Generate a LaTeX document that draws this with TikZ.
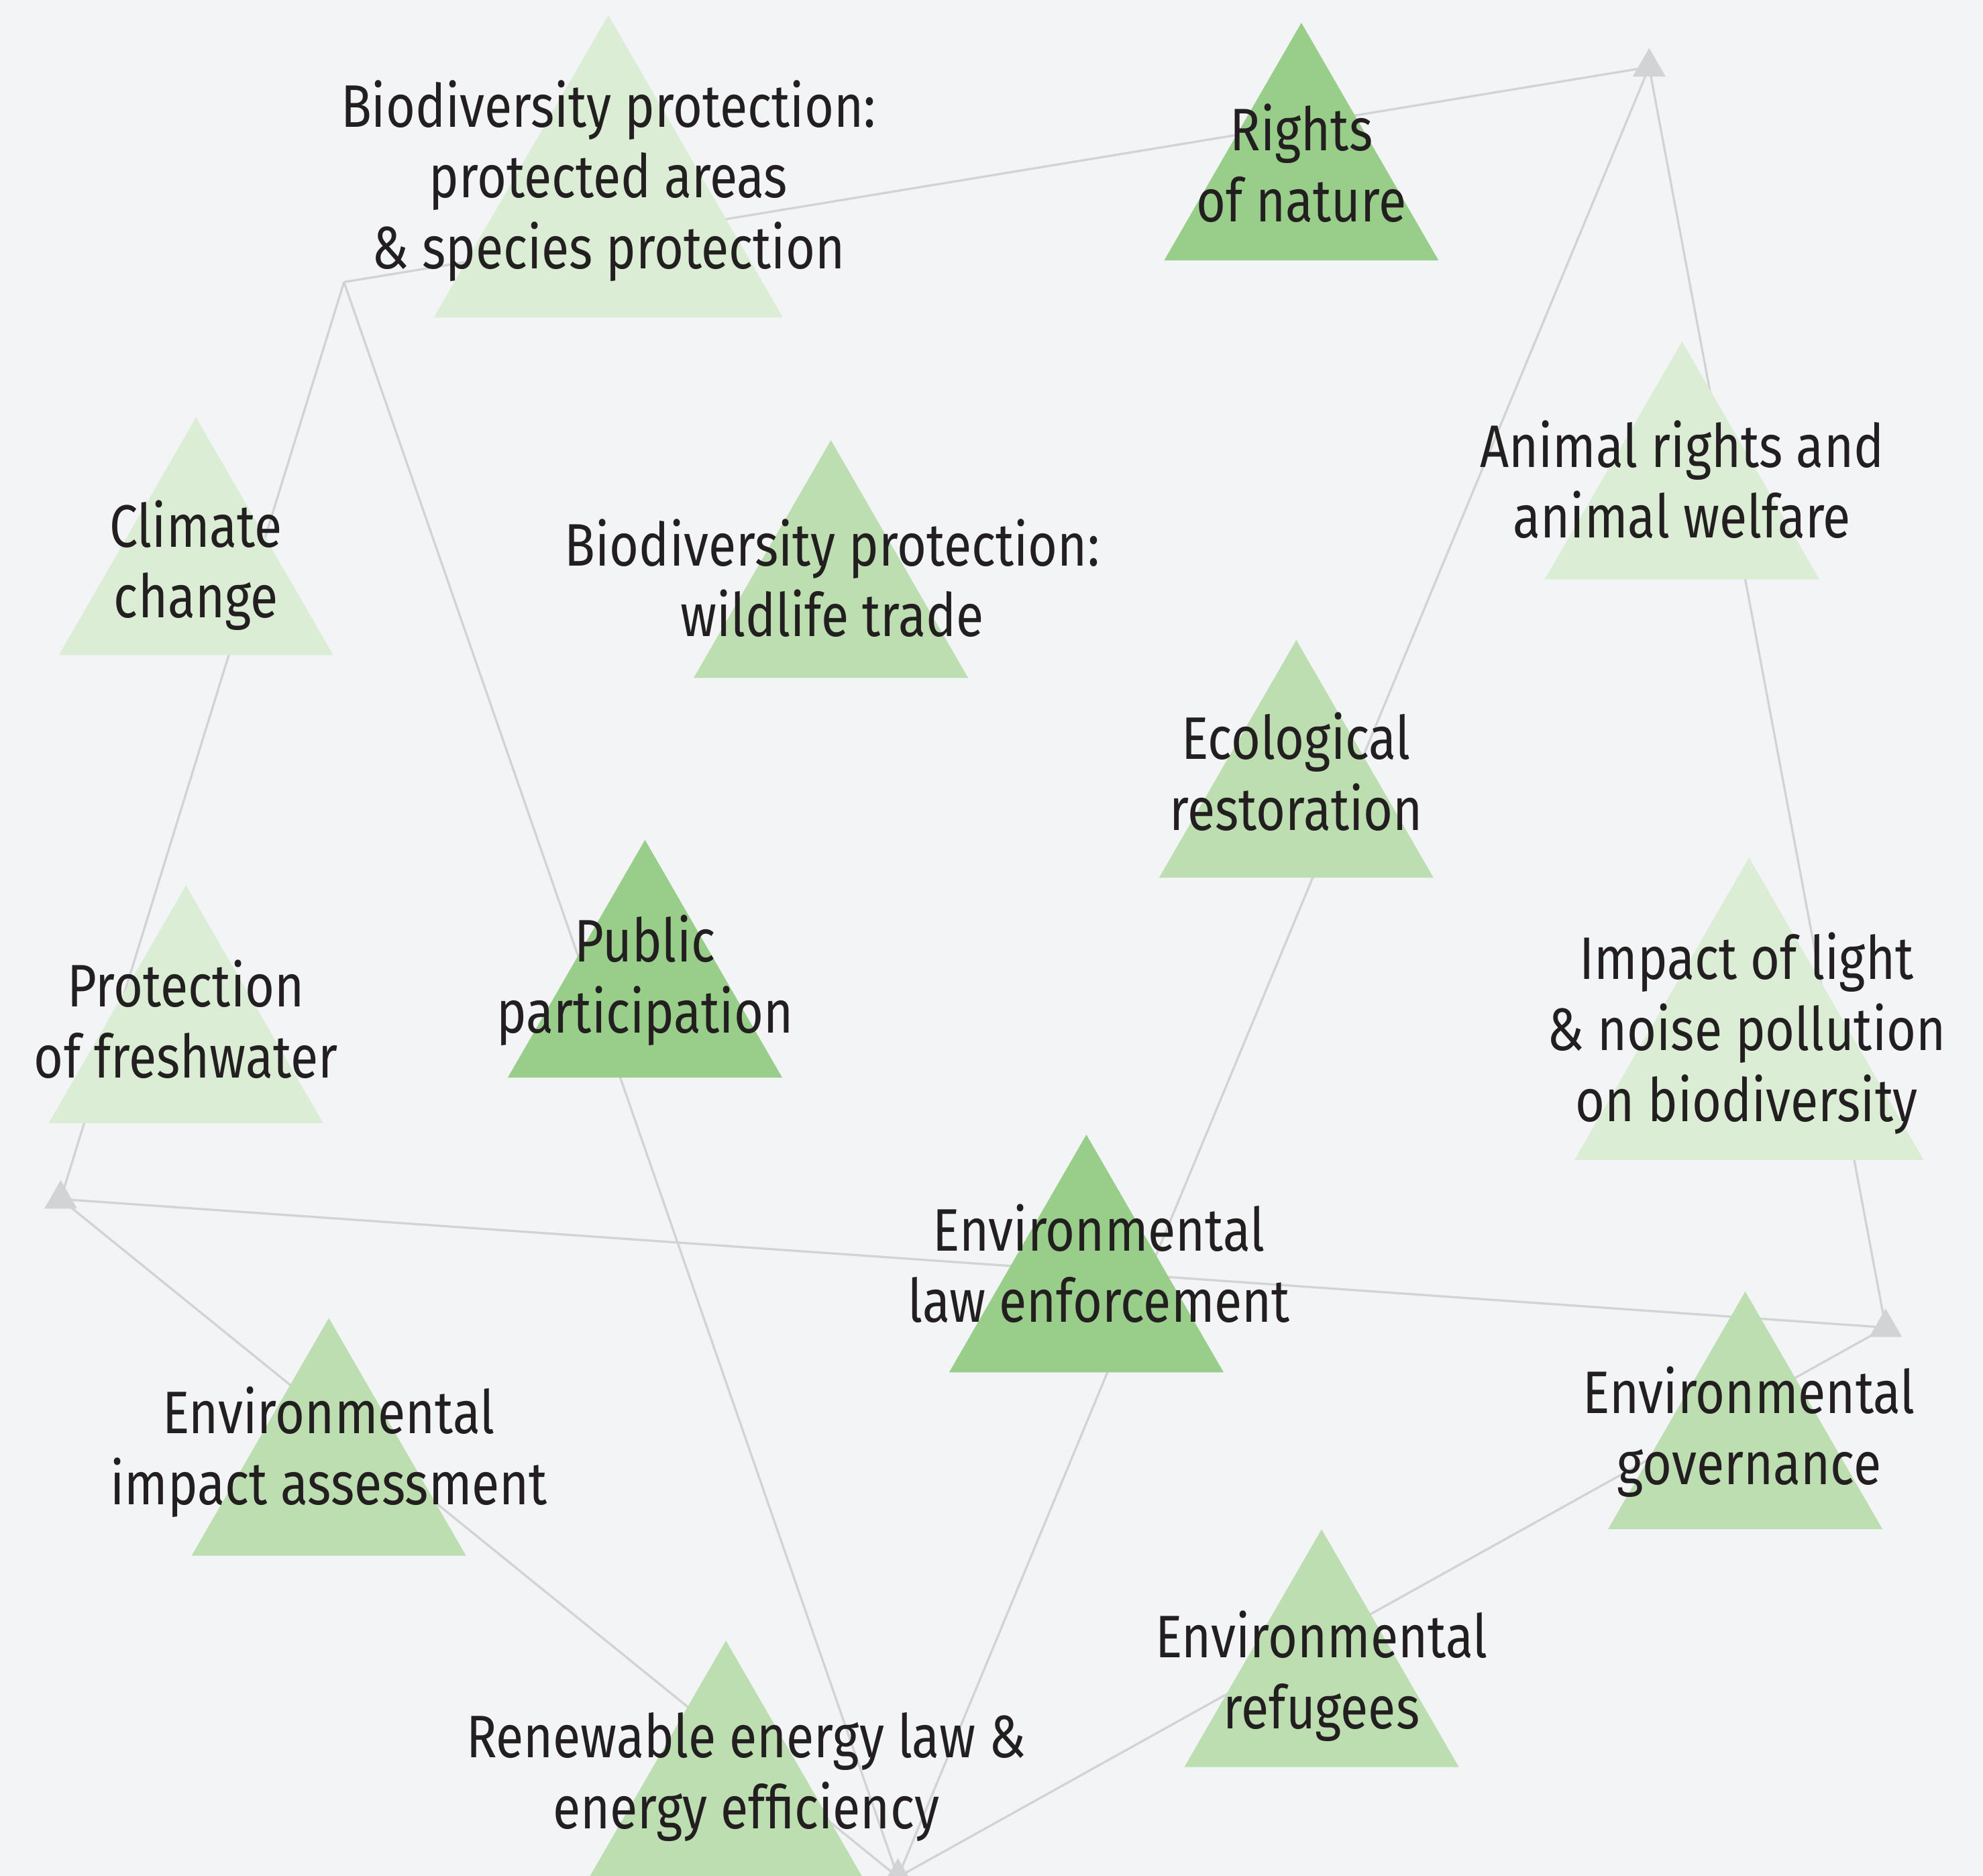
\documentclass[tikz,border=0pt]{standalone}
\usepackage{fontspec}
\setmainfont{Fira Sans}[FakeStretch=0.843]
\usepackage{tikz}

\definecolor{paper}{HTML}{F2F4F6}
\definecolor{linkgrey}{HTML}{D2D3D5}
\definecolor{ink}{HTML}{231F20}
\definecolor{leaflight}{HTML}{DBEDD5}
\definecolor{leafmid}{HTML}{BCDEB0}
\definecolor{leafdark}{HTML}{98CE8A}

\tikzset{
	link/.style={draw=linkgrey, line width=1pt},
	topic/.style={align=center, inner sep=0pt, text=ink,
		font=\fontsize{27}{31.9}\selectfont},
}

% apex x, apex y, side, colour
\newcommand{\ecotri}[4]{\fill[#4] (#1,#2) -- ++({-0.5*#3},{0.866*#3}) -- ++(#3,0) -- cycle;}

\begin{document}
\begin{tikzpicture}[x=0.02cm, y=-0.02cm]
	\fill[paper] (0,0) rectangle (1568,1483);
	\useasboundingbox (0,0) rectangle (1568,1483);

	% junctions
	\coordinate (c0) at (272, 223);
	\coordinate (j1) at (1304, 53);
	\coordinate (j2) at (48, 948);
	\coordinate (j3) at (1491, 1049.5);
	\coordinate (j4) at (710, 1484);

	\path[link] (c0) edge (j1);
	\path[link] (c0) edge (j2);
	\path[link] (c0) edge (j4);
	\path[link] (j1) edge (j4);
	\path[link] (j1) edge (j3);
	\path[link] (j2) edge (j3);
	\path[link] (j2) edge (j4);
	\path[link] (j3) edge (j4);

	% triangles
	\ecotri{481}{12}{276}{leaflight}
	\ecotri{1029}{18}{217}{leafdark}
	\ecotri{155}{330}{217}{leaflight}
	\ecotri{657}{348}{217}{leafmid}
	\ecotri{1330}{270}{217}{leaflight}
	\ecotri{1025}{506}{217}{leafmid}
	\ecotri{510}{664}{217}{leafdark}
	\ecotri{147}{700}{217}{leaflight}
	\ecotri{1383}{678}{276}{leaflight}
	\ecotri{859}{897}{217}{leafdark}
	\ecotri{1380}{1021}{217}{leafmid}
	\ecotri{260}{1042}{217}{leafmid}
	\ecotri{1045}{1209}{217}{leafmid}
	\ecotri{574}{1297}{217}{leafmid}

	\ecotri{1304}{38}{26}{linkgrey}
	\ecotri{48}{933}{26}{linkgrey}
	\ecotri{1491}{1034.5}{26}{linkgrey}
	\ecotri{710}{1469}{26}{linkgrey}

	% labels
	\node[topic] (prot) at (481, 143) {Biodiversity protection:\\protected areas\\\& species protection};
	\node[topic] (rights) at (1029, 129) {Rights\\of nature};
	\node[topic] (clim) at (155, 447) {Climate\\change};
	\node[topic] (wild) at (658, 457) {Biodiversity protection:\\wildlife trade};
	\node[topic] (animal) at (1330, 379) {Animal rights and\\animal welfare};
	\node[topic] (ecol) at (1025, 610) {Ecological\\restoration};
	\node[topic] (public) at (510, 775) {Public\\participation};
	\node[topic] (fresh) at (147, 806) {Protection\\of freshwater};
	\node[topic] (noise) at (1381, 817) {Impact of light\\\& noise pollution\\on biodiversity};
	\node[topic] (law) at (869, 999) {Environmental\\law enforcement};
	\node[topic] (gov) at (1383, 1132) {Environmental\\governance};
	\node[topic] (eia) at (260, 1148) {Environmental\\impact assessment};
	\node[topic] (refug) at (1045, 1325) {Environmental\\refugees};
	\node[topic] (renew) at (590, 1405) {Renewable energy law \&\\energy efficiency};
\end{tikzpicture}
\end{document}
